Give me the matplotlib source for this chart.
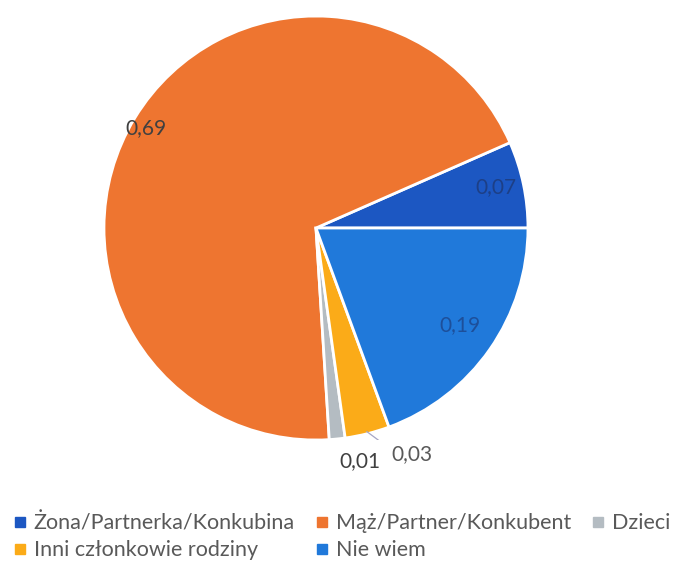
import matplotlib.pyplot as plt
from matplotlib.lines import Line2D
import numpy as np

# values (angles), labels shown with comma decimals
categories = [
    "Żona/Partnerka/Konkubina",
    "Mąż/Partner/Konkubent",
    "Dzieci",
    "Inni członkowie rodziny",
    "Nie wiem",
]
values = [0.066, 0.694, 0.012, 0.034, 0.194]
colors = ["#1c57c2", "#ee7530", "#b4bcc2", "#fbab18", "#2079da"]

# label placement: radius (fraction of pie radius) and extra angle shift in degrees
label_radius = [0.87, 0.93, 1.12, 1.16, 0.82]
label_shift = [1, 1, 5, 9, 1]
label_color = ["#1d3f86", "#404040", "#404040", "#595959", "#1d4f9a"]

plt.rcParams["font.family"] = ["Lato", "DejaVu Sans"]

fig = plt.figure(figsize=(6.73, 5.64), dpi=100)
ax = fig.add_axes([0.1545, 0.2197, 0.630, 0.752])

wedges, _ = ax.pie(
    values,
    colors=colors,
    startangle=0,
    counterclock=True,
    wedgeprops=dict(edgecolor="white", linewidth=2),
)
ax.set_xlim(-1, 1)
ax.set_ylim(-1, 1)
ax.set_aspect("equal")

label_pos = []
for i, w in enumerate(wedges):
    mid = np.deg2rad((w.theta1 + w.theta2) / 2 + label_shift[i])
    r = label_radius[i]
    x, y = r * np.cos(mid), r * np.sin(mid)
    label_pos.append((x, y))
    txt = f"{values[i]:.2f}".replace(".", ",")
    ax.text(x, y, txt, ha="center", va="center", fontsize=15, color=label_color[i])

# leader line for the small yellow slice
w = wedges[3]
a = np.deg2rad((w.theta1 + w.theta2) / 2)
lx, ly = label_pos[3]
ax.plot([0.99 * np.cos(a), lx - 0.11], [0.99 * np.sin(a), ly + 0.03],
        color="#a6a6c6", lw=0.9)

order = [0, 3, 1, 4, 2]
handles = [
    Line2D([], [], marker="s", linestyle="none", markersize=7,
           markerfacecolor=colors[i], markeredgecolor=colors[i])
    for i in order
]
fig.legend(
    handles,
    [categories[i] for i in order],
    ncol=3,
    loc="upper left",
    bbox_to_anchor=(-0.009, 0.125),
    frameon=False,
    fontsize=15.5,
    handlelength=0.6,
    handletextpad=0.35,
    columnspacing=0.95,
    labelspacing=0.33,
    labelcolor="#595959",
)

fig.savefig("out.png", dpi=100)
